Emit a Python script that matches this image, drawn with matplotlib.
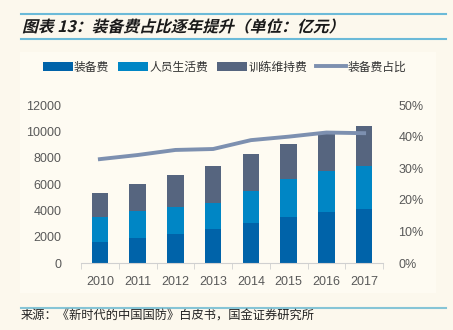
import numpy as np
import matplotlib
matplotlib.use("Agg")
from matplotlib import pyplot as plt
from matplotlib.patches import Rectangle, PathPatch
from matplotlib.lines import Line2D
from matplotlib.textpath import TextPath
from matplotlib.font_manager import FontProperties
from matplotlib.transforms import Affine2D

plt.rcParams['font.family'] = ['Liberation Sans', 'Noto Sans CJK SC', 'DejaVu Sans']

years = ['2010', '2011', '2012', '2013', '2014', '2015', '2016', '2017']
equip = [1640, 1940, 2250, 2600, 3080, 3530, 3890, 4140]
personnel = [1850, 2050, 1990, 1970, 2400, 2840, 3080, 3240]
training = [1810, 2020, 2430, 2780, 2780, 2700, 2960, 3030]
equip_share = [32.9, 34.2, 35.8, 36.1, 38.9, 40.0, 41.3, 41.1]

c_equip = '#0063A9'
c_pers = '#0086C5'
c_train = '#56657F'
c_line = '#7D90B0'
c_rule = '#6BBAD8'
c_tick = '#595959'
cjk = ['Noto Sans CJK SC', 'DejaVu Sans']

W, H = 453, 330
fig = plt.figure(figsize=(W/100, H/100), dpi=100)
fig.patch.set_facecolor('#FCF8ED')

# lighter panel behind the chart
fig.patches.append(Rectangle((20/W, 1-293/H), 416/W, 241/H,
                             transform=fig.transFigure, facecolor='#FEFBF2',
                             edgecolor='none', zorder=-5))

# title with rules, slanted like the original
fig.add_artist(Line2D([21/W, 446/W], [1-14/H, 1-14/H], color=c_rule, lw=1.5))
fig.add_artist(Line2D([21/W, 446/W], [1-39/H, 1-39/H], color=c_rule, lw=1.5))
tp = TextPath((0, 0), '图表 13：装备费占比逐年提升（单位：亿元）', size=15.8,
              prop=FontProperties(family='Noto Sans CJK SC', weight='bold'))
tr = Affine2D().skew_deg(14, 0).translate(22, H - 32)
fig.add_artist(PathPatch(tr.transform_path(tp), transform=None,
                         facecolor='#1a1a1a', edgecolor='none'))

# source
fig.add_artist(Line2D([21/W, 446/W], [1-307.5/H, 1-307.5/H], color='#86C5D6', lw=1.5))
fig.text(21/W, 1-316/H, '来源：《新时代的中国国防》白皮书，国金证券研究所', family=cjk,
         fontsize=8.8, color='#222222', va='center', ha='left')

ax = fig.add_axes([81/W, 1-263.3/H, 302/W, 158.3/H])
ax.set_facecolor('none')
x = np.arange(len(years))
w = 0.44
b1 = ax.bar(x, equip, w, color=c_equip, zorder=2)
b2 = ax.bar(x, personnel, w, bottom=equip, color=c_pers, zorder=2)
bottom2 = np.array(equip) + np.array(personnel)
b3 = ax.bar(x, training, w, bottom=bottom2, color=c_train, zorder=2)

ax.set_xlim(-0.5, len(years) - 0.5)
ax.set_ylim(0, 12000)
ax.set_yticks(range(0, 12001, 2000))
ax.set_xticks(x)
ax.set_xticklabels(years)
ax.set_xticks(np.arange(-0.5, len(years), 1), minor=True)
for s in ['top', 'right', 'left']:
    ax.spines[s].set_visible(False)
ax.spines['bottom'].set_color('#D0D0D0')
ax.tick_params(axis='x', which='major', length=0, pad=9, labelsize=9, labelcolor=c_tick)
ax.tick_params(axis='x', which='minor', length=4, color='#D0D0D0')
ax.tick_params(axis='y', length=0, pad=14, labelsize=9, labelcolor=c_tick)

ax2 = ax.twinx()
ln, = ax2.plot(x, equip_share, color=c_line, lw=2.8, zorder=3)
ax2.set_ylim(0, 50)
ax2.set_yticks(range(0, 51, 10))
ax2.set_yticklabels([f'{v}%' for v in range(0, 51, 10)])
for s in ax2.spines.values():
    s.set_visible(False)
ax2.tick_params(axis='y', length=0, pad=11, labelsize=9, labelcolor=c_tick)

leg = fig.legend([b1, b2, b3, ln], ['装备费', '人员生活费', '训练维持费', '装备费占比'],
                 loc='center left', bbox_to_anchor=(38/W, 1-67/H), ncol=4,
                 frameon=False, prop={'family': cjk, 'size': 8.5},
                 handlelength=2.55, handleheight=0.75, handletextpad=0.1,
                 columnspacing=0.75, borderaxespad=0)
for t in leg.get_texts():
    t.set_color('#333333')

fig.savefig('out.png', dpi=100, facecolor=fig.get_facecolor())
